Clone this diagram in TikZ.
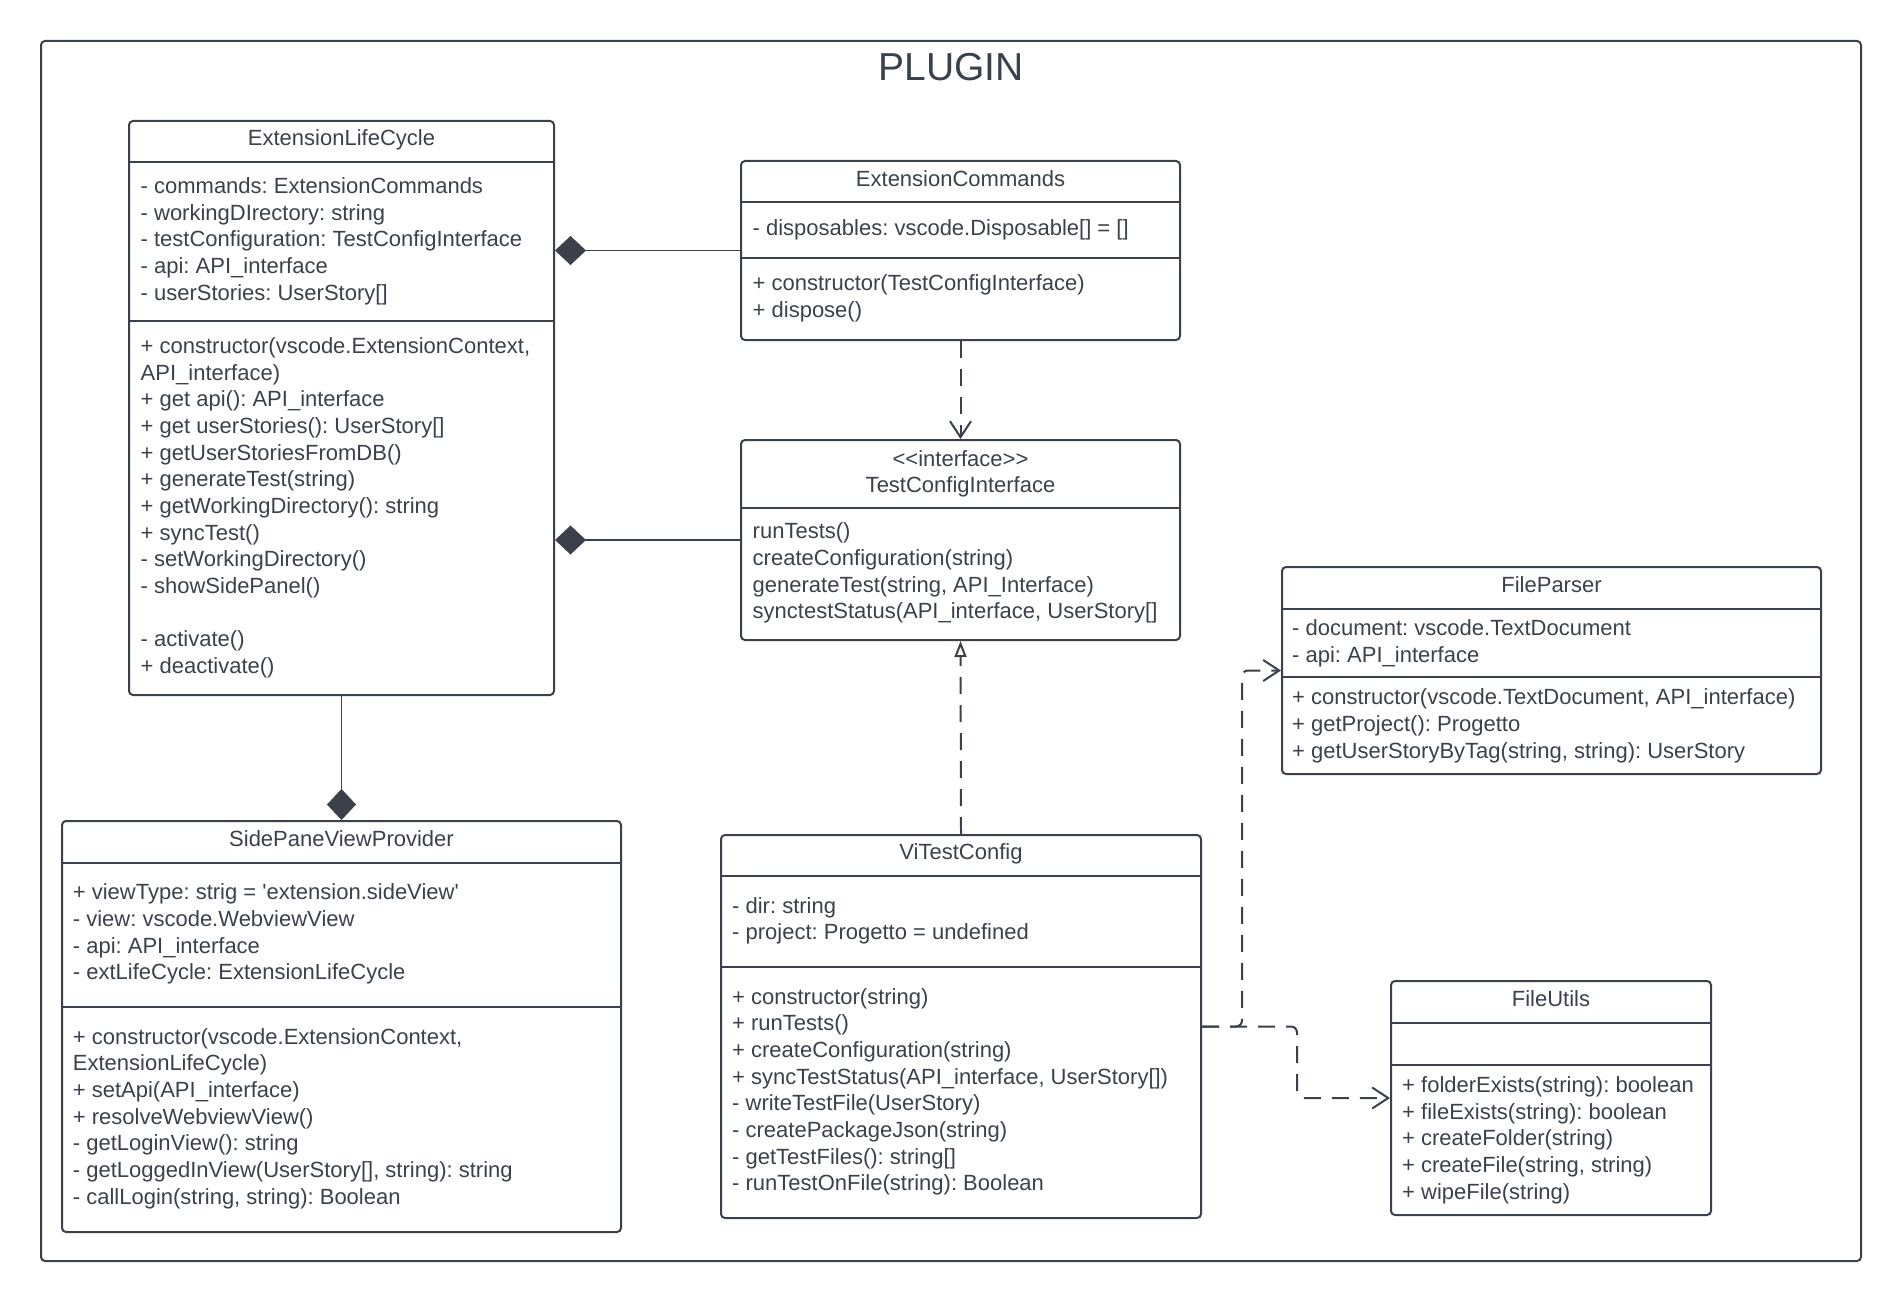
\documentclass[tikz,border=0pt]{standalone}
\usepackage{fontspec}
\setmainfont{Liberation Sans}[Ligatures=TeXOff]
\usetikzlibrary{arrows.meta}
\definecolor{umlink}{HTML}{3A414A}
\newcommand\umlfont{\frenchspacing\fontsize{22}{26.66}\selectfont}

\begin{document}
\begin{tikzpicture}[x=1pt, y=-1pt,
    classbox/.style ={draw=umlink, line width=2pt, rounded corners=4pt, anchor=north west, inner sep=0pt},
    classname/.style ={anchor=base, inner sep=0pt, font=\umlfont, text=umlink},
    members/.style ={anchor=north west, inner sep=0pt, align=left, font=\umlfont, text=umlink},
    divider/.style ={draw=umlink, line width=2pt},
    composition/.style ={draw=umlink, line width=1.6pt, {Diamond[length=31pt, width=29pt, fill=umlink]}-},
    dependency/.style ={draw=umlink, line width=2pt, dash pattern=on 17pt off 11pt, -{Straight Barb[length=16pt, width=21pt]}},
    realization/.style ={draw=umlink, line width=2pt, dash pattern=on 17pt off 11pt, -{Triangle[open, length=16pt, width=12pt, fill=white]}}]
   \useasboundingbox (0,0) rectangle (1900,1300);
   \node[classbox, minimum width=1820pt, minimum height=1220pt] (plugin) at (40,40) {};
   \node[font=\fontsize{39}{44}\selectfont, text=umlink, inner sep=0pt] (plugintitle) at ([yshift=-27pt]plugin.north) {PLUGIN};

   \node[classbox, minimum width=425pt, minimum height=574pt] (elc) at (128,120) {};
   \node[classname] (elcname) at ([yshift=-26pt]elc.north) {ExtensionLifeCycle};
   \draw[divider] ([yshift=-42pt]elc.north west) -- ([yshift=-42pt]elc.north east);
   \draw[divider] ([yshift=-201pt]elc.north west) -- ([yshift=-201pt]elc.north east);
   \node[members] (elcattr) at ([xshift=12.5pt, yshift=-54.7pt]elc.north west) {\strut- commands: ExtensionCommands\\
      - workingDIrectory: string\\
      - testConfiguration: TestConfigInterface\\
      - api: API\_interface\\
      - userStories: UserStory[]};
   \node[members] (elcops) at ([xshift=12.5pt, yshift=-214.6pt]elc.north west) {\strut+ constructor(vscode.ExtensionContext,\\
      API\_interface)\\
      + get api(): API\_interface\\
      + get userStories(): UserStory[]\\
      + getUserStoriesFromDB()\\
      + generateTest(string)\\
      + getWorkingDirectory(): string\\
      + syncTest()\\
      - setWorkingDirectory()\\
      - showSidePanel()\\[26.66pt]
      - activate()\\
      + deactivate()};

   \node[classbox, minimum width=439pt, minimum height=179pt] (ec) at (740,160) {};
   \node[classname] (ecname) at ([yshift=-26pt]ec.north) {ExtensionCommands};
   \draw[divider] ([yshift=-42pt]ec.north west) -- ([yshift=-42pt]ec.north east);
   \draw[divider] ([yshift=-98pt]ec.north west) -- ([yshift=-98pt]ec.north east);
   \node[members] (ecattr) at ([xshift=12.5pt, yshift=-57.1pt]ec.north west) {\strut- disposables: vscode.Disposable[] = []};
   \node[members] (ecops) at ([xshift=12.5pt, yshift=-111.6pt]ec.north west) {\strut+ constructor(TestConfigInterface)\\
      + dispose()};

   \node[classbox, minimum width=439pt, minimum height=200pt] (tci) at (740,439) {};
   \node[classname, anchor=north, align=center] (tciname) at ([yshift=-8.3pt]tci.north) {\strut<<interface>>\\TestConfigInterface};
   \draw[divider] ([yshift=-69pt]tci.north west) -- ([yshift=-69pt]tci.north east);
   \node[members] (tciops) at ([xshift=12.5pt, yshift=-81pt]tci.north west) {\strut runTests()\\
      createConfiguration(string)\\
      generateTest(string, API\_Interface)\\
      synctestStatus(API\_interface, UserStory[]};

   \node[classbox, minimum width=539pt, minimum height=207pt] (fp) at (1281,566) {};
   \node[classname] (fpname) at ([yshift=-26pt]fp.north) {FileParser};
   \draw[divider] ([yshift=-43pt]fp.north west) -- ([yshift=-43pt]fp.north east);
   \draw[divider] ([yshift=-111pt]fp.north west) -- ([yshift=-111pt]fp.north east);
   \node[members] (fpattr) at ([xshift=11pt, yshift=-51pt]fp.north west) {\strut- document: vscode.TextDocument\\
      - api: API\_interface};
   \node[members] (fpops) at ([xshift=11pt, yshift=-120pt]fp.north west) {\strut+ constructor(vscode.TextDocument, API\_interface)\\
      + getProject(): Progetto\\
      + getUserStoryByTag(string, string): UserStory};

   \node[classbox, minimum width=320pt, minimum height=234pt] (fu) at (1390,980) {};
   \node[classname] (funame) at ([yshift=-26.4pt]fu.north) {FileUtils};
   \draw[divider] ([yshift=-43pt]fu.north west) -- ([yshift=-43pt]fu.north east);
   \draw[divider] ([yshift=-85pt]fu.north west) -- ([yshift=-85pt]fu.north east);
   \node[members] (fuops) at ([xshift=12pt, yshift=-93.8pt]fu.north west) {\strut+ folderExists(string): boolean\\
      + fileExists(string): boolean\\
      + createFolder(string)\\
      + createFile(string, string)\\
      + wipeFile(string)};

   \node[classbox, minimum width=559pt, minimum height=411pt] (spvp) at (61,820) {};
   \node[classname] (spvpname) at ([yshift=-26.5pt]spvp.north) {SidePaneViewProvider};
   \draw[divider] ([yshift=-43pt]spvp.north west) -- ([yshift=-43pt]spvp.north east);
   \draw[divider] ([yshift=-187pt]spvp.north west) -- ([yshift=-187pt]spvp.north east);
   \node[members] (spvpattr) at ([xshift=11.7pt, yshift=-61.1pt]spvp.north west) {\strut+ viewType: strig = 'extension.sideView'\\
      - view: vscode.WebviewView\\
      - api: API\_interface\\
      - extLifeCycle: ExtensionLifeCycle};
   \node[members] (spvpops) at ([xshift=11.7pt, yshift=-205.3pt]spvp.north west) {\strut+ constructor(vscode.ExtensionContext,\\
      ExtensionLifeCycle)\\
      + setApi(API\_interface)\\
      + resolveWebviewView()\\
      - getLoginView(): string\\
      - getLoggedInView(UserStory[], string): string\\
      - callLogin(string, string): Boolean};

   \node[classbox, minimum width=480pt, minimum height=383pt] (vtc) at (720,834) {};
   \node[classname] (vtcname) at ([yshift=-25.8pt]vtc.north) {ViTestConfig};
   \draw[divider] ([yshift=-42pt]vtc.north west) -- ([yshift=-42pt]vtc.north east);
   \draw[divider] ([yshift=-133pt]vtc.north west) -- ([yshift=-133pt]vtc.north east);
   \node[members] (vtcattr) at ([xshift=12pt, yshift=-60.4pt]vtc.north west) {\strut- dir: string\\
      - project: Progetto = undefined};
   \node[members] (vtcops) at ([xshift=12pt, yshift=-151.3pt]vtc.north west) {\strut+ constructor(string)\\
      + runTests()\\
      + createConfiguration(string)\\
      + syncTestStatus(API\_interface, UserStory[])\\
      - writeTestFile(UserStory)\\
      - createPackageJson(string)\\
      - getTestFiles(): string[]\\
      - runTestOnFile(string): Boolean};

   \draw[composition] (elc.east |- ec.west) -- (ec.west);
   \draw[composition] (elc.east |- tci.west) -- (tci.west);
   \draw[composition, line width=1pt] (spvp.north) -- (elc.south);
   \draw[dependency] (ec.south) -- (tci.north);
   \draw[realization] (vtc.north) -- (tci.south);
   \draw[dependency, rounded corners=6pt] (vtc.east) -- ++(40,0) |- (fp.west);
   \draw[dependency, rounded corners=6pt] (vtc.east) -- ++(95,0) |- (fu.west);
\end{tikzpicture}
\end{document}
